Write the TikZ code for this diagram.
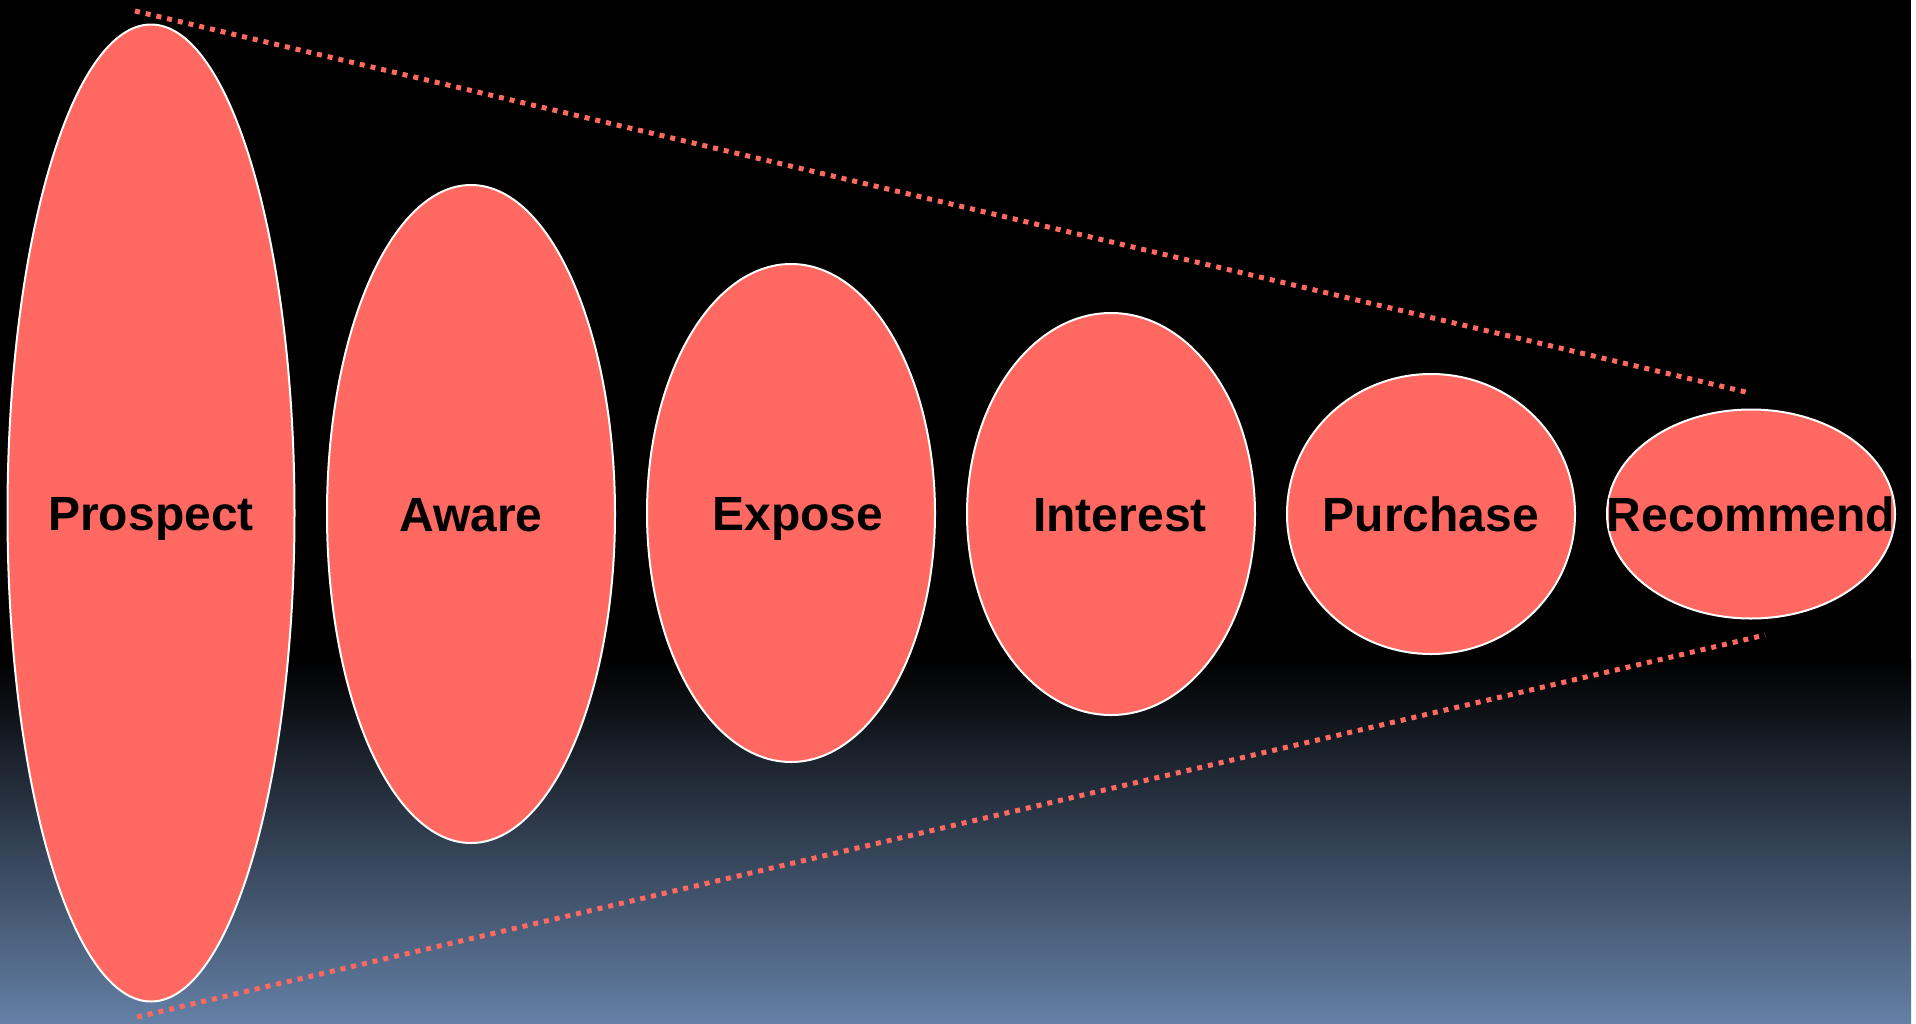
\documentclass[tikz,border=0pt]{standalone}
\usepackage{fontspec}
\setmainfont{Liberation Sans}
\usetikzlibrary{shapes.geometric}
\definecolor{salmon}{RGB}{255,105,98}
\definecolor{steel}{RGB}{100,128,166}
\definecolor{steelmid}{RGB}{58,76,104}
\tikzset{
  stage/.style={ellipse, fill=salmon, draw=white, line width=2pt, inner sep=0pt},
  stagelabel/.style={inner sep=0pt, font=\fontsize{48}{50}\selectfont\bfseries, text=black,
    text height=34pt, text depth=0pt},
  funnel/.style={draw=salmon, line width=5pt, dash pattern=on 5pt off 6pt}
}
\begin{document}
\begin{tikzpicture}[x=1pt,y=-1pt]
\useasboundingbox (0,0) rectangle (1916,1023);
\fill[white] (0,0) rectangle (1916,1023);
\fill[black] (0,0) rectangle (1911,660);
\shade[top color=black, middle color=steelmid, bottom color=steel] (0,659) rectangle (1911,1023);
% funnel lines
\coordinate (t1) at (135,11);
\coordinate (t2) at (1750,393);
\coordinate (b1) at (137,1017);
\coordinate (b2) at (1765,635);
\draw[funnel] (t1) -- (t2);
\draw[funnel] (b1) -- (b2);
% stages
\node[stage, minimum width=287pt, minimum height=977pt] (p1) at (151,513) {};
\node[stage, minimum width=288pt, minimum height=658pt] (p2) at (471,514) {};
\node[stage, minimum width=288pt, minimum height=498pt] (p3) at (791,513) {};
\node[stage, minimum width=288pt, minimum height=402pt] (p4) at (1111,514) {};
\node[stage, minimum width=288pt, minimum height=280pt] (p5) at (1431,514) {};
\node[stage, minimum width=288pt, minimum height=209pt] (p6) at (1751,514) {};
\node[stagelabel] (l1) at (p1.center) {Prospect};
\node[stagelabel] (l2) at (p2.center) {Aware};
\node[stagelabel, xshift=7pt] (l3) at (p3.center) {Expose};
\node[stagelabel, xshift=9pt] (l4) at (p4.center) {Interest};
\node[stagelabel] (l5) at (p5.center) {Purchase};
\node[stagelabel] (l6) at (p6.center) {Recommend};
\end{tikzpicture}
\end{document}
